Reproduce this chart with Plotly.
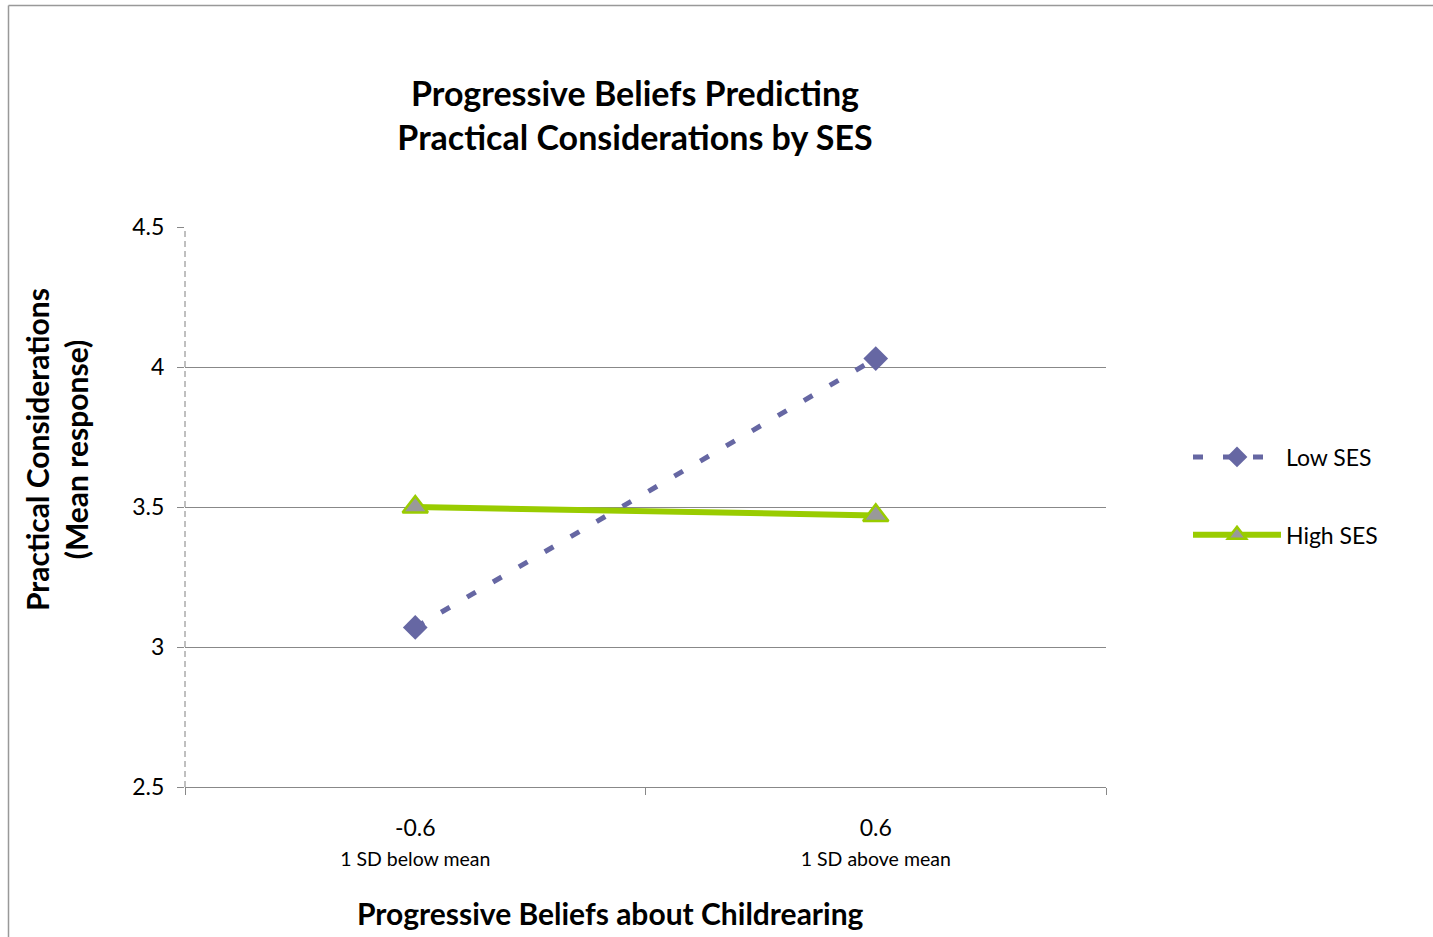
import plotly.graph_objects as go

categories = ["-0.6", "0.6"]
category_sub = ["1 SD below mean", "1 SD above mean"]
low_ses = [3.07, 4.03]
high_ses = [3.50, 3.47]
y_ticks = [2.5, 3, 3.5, 4, 4.5]

FONT = "Lato"
W, H = 1433, 937
# plot area in screen pixels
L, R, T, B = 185, 1106, 227, 787

def px(x):
    return (x - L) / (R - L)

def py(y):
    return (B - y) / (B - T)

fig = go.Figure()
fig.add_trace(go.Scatter(
    x=categories, y=low_ses, name="Low SES", mode="lines+markers",
    line=dict(color="#6667A3", width=5, dash="10px,20px"),
    marker=dict(symbol="diamond", size=19, color="#6667A3"),
    legendgroup="a",
))
fig.add_trace(go.Scatter(
    x=categories, y=high_ses, name="High SES", mode="lines+markers",
    line=dict(color="#99CC00", width=6),
    marker=dict(symbol="triangle-up", size=22, color="#999999",
                line=dict(color="#99CC00", width=2.5)),
    legendgroup="b",
))

ticktext = [f"{c}<br><span style='font-size:19.5px'>{s}</span>" for c, s in zip(categories, category_sub)]

fig.update_layout(
    width=W, height=H,
    margin=dict(l=L, r=W - R, t=T, b=H - B),
    paper_bgcolor="white", plot_bgcolor="white",
    font=dict(family=FONT, color="black", size=23),
    title=dict(
        text="<b>Progressive Beliefs Predicting<br>Practical Considerations by SES</b>",
        x=635 / W, xanchor="center", y=1 - 106 / H, yanchor="middle",
        font=dict(size=34, family=FONT),
    ),
    xaxis=dict(
        type="category", range=[-0.5, 1.5],
        tickvals=categories, ticktext=ticktext,
        tickson="boundaries", ticks="outside", ticklen=7, tickcolor="#888888",
        ticklabelstandoff=20,
        showline=True, linecolor="#888888", linewidth=1,
        showgrid=False, zeroline=False,
        tickfont=dict(size=23),
    ),
    yaxis=dict(
        range=[2.5, 4.5], tickvals=y_ticks, ticktext=[str(v) for v in y_ticks],
        ticks="outside", ticklen=7, tickcolor="#888888",
        ticklabelstandoff=8,
        showgrid=True, gridcolor="#888888", gridwidth=1,
        showline=False, zeroline=False,
        tickfont=dict(size=23),
    ),
    legend=dict(
        x=px(1188), xanchor="left", y=py(496), yanchor="middle",
        font=dict(size=23), itemwidth=88, tracegroupgap=45,
        bgcolor="rgba(0,0,0,0)",
    ),
    annotations=[
        dict(text="<b>Progressive Beliefs about Childrearing</b>", xref="paper", yref="paper",
             x=px(610), y=py(913), xanchor="center", yanchor="middle", showarrow=False,
             font=dict(size=30)),
        dict(text="<b>Practical Considerations<br>(Mean response)</b>", xref="paper", yref="paper",
             x=px(56), y=py(450), xanchor="center", yanchor="middle", showarrow=False,
             textangle=-90, font=dict(size=30)),
    ],
    shapes=[
        dict(type="line", xref="paper", yref="paper", x0=0, x1=0, y0=0, y1=1,
             line=dict(color="#808080", width=1, dash="6px,4px")),
        dict(type="line", xref="paper", yref="paper", x0=px(8.5), x1=px(1445),
             y0=py(5.5), y1=py(5.5), line=dict(color="#999999", width=1.5)),
        dict(type="line", xref="paper", yref="paper", x0=px(8.5), x1=px(8.5),
             y0=py(5.5), y1=py(950), line=dict(color="#999999", width=1.5)),
    ],
)

fig.write_html("out.html", config={"displayModeBar": False},
               post_script="document.body.style.margin='0px';")
